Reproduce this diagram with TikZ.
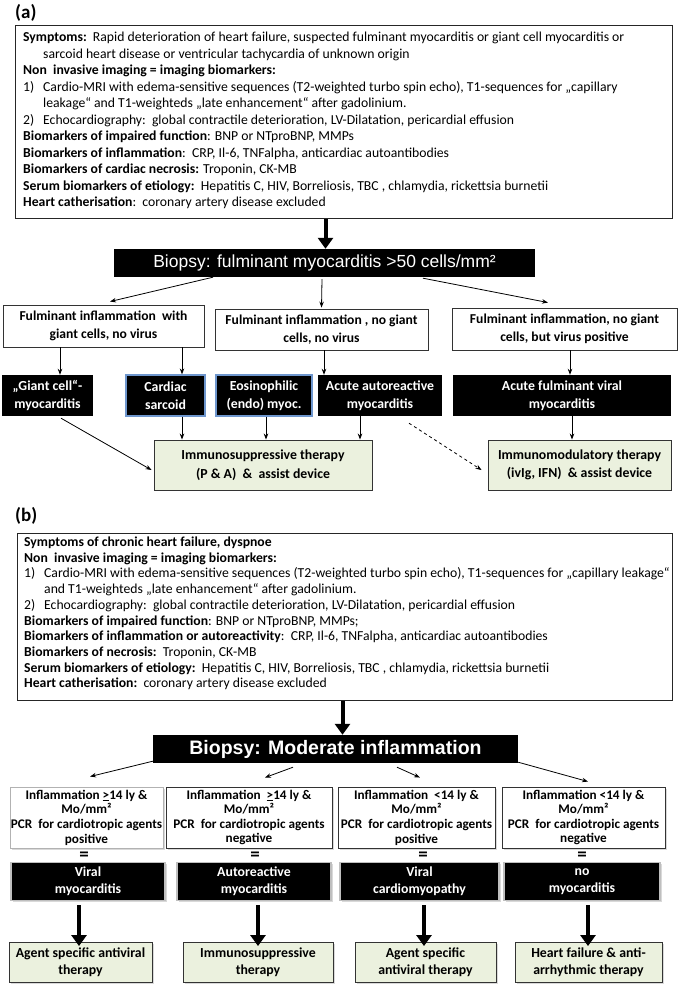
\documentclass[tikz,border=0pt]{standalone}
\usepackage{fontspec}
\setmainfont{Carlito}
\newfontfamily\arialfont{Liberation Sans}
\usetikzlibrary{arrows.meta,shadows,calc}
\definecolor{gfill}{RGB}{235,241,222}
\definecolor{bblue}{RGB}{110,150,205}
\newcommand\tln[4]{\node[tl] (#1) at (#2,#3) {#4};}
\tikzset{
  tl/.style={anchor=base west, inner sep=0pt, font=\fontsize{13.7}{15}\selectfont},
  panellabel/.style={anchor=base west, inner sep=0pt, font=\bfseries\fontsize{19}{20}\selectfont},
  bigbox/.style={draw=black!85, line width=1pt, anchor=north west, inner sep=0pt, fill=white},
  wbox/.style={draw=black!80, line width=0.9pt, fill=white, align=center, inner sep=0pt,
     font=\bfseries\fontsize{13.6}{17.5}\selectfont},
  bbox/.style={fill=black, text=white, align=center, inner sep=0pt,
     font=\bfseries\fontsize{13.8}{18}\selectfont},
  blbox/.style={bbox, draw=bblue, line width=1.2pt},
  gbox/.style={draw=black!80, line width=0.9pt, fill=gfill, align=center, inner sep=0pt,
     font=\bfseries\fontsize{13.8}{18.5}\selectfont},
  shd/.style={drop shadow={shadow xshift=1.5pt, shadow yshift=-1.5pt, opacity=0.3}},
  thinarr/.style={-{Stealth[length=6pt,width=4.5pt]}, line width=0.8pt},
  bigarr/.style={-{Triangle[length=11pt,width=15pt]}, line width=4pt},
  eqs/.style={inner sep=0pt, font=\bfseries\fontsize{19}{19}\selectfont},
  rowtwo/.style={font=\bfseries\fontsize{13.2}{14.6}\selectfont},
}
\begin{document}
\begin{tikzpicture}[x=1pt,y=-1pt]
\useasboundingbox (0,0) rectangle (685,988);

% ---------------- (a) ----------------
\node[panellabel] (la) at (15,18) {(a)};
\node[bigbox, minimum width=657pt, minimum height=193pt] (A) at (15,25) {};
\tln{a1}{23}{41.5}{\textbf{Symptoms:}\ \ Rapid deterioration of heart failure, suspected fulminant myocarditis or giant cell myocarditis or}
\tln{a2}{43}{58}{sarcoid heart disease or ventricular tachycardia of unknown origin}
\tln{a3}{23}{74.5}{\textbf{Non\ \ invasive imaging = imaging biomarkers:}}
\tln{a4}{23}{91}{\makebox[20pt][l]{1)}Cardio-MRI with edema-sensitive sequences (T2-weighted turbo spin echo), T1-sequences for „capillary}
\tln{a5}{43}{107.5}{leakage“ and T1-weighteds „late enhancement“ after gadolinium.}
\tln{a6}{23}{124}{\makebox[20pt][l]{2)}Echocardiography:\ \ global contractile deterioration, LV-Dilatation, pericardial effusion}
\tln{a7}{23}{140.5}{\textbf{Biomarkers of impaired function}: BNP or NTproBNP, MMPs}
\tln{a8}{23}{157}{\textbf{Biomarkers of inflammation}:\ \ CRP, Il-6, TNFalpha, anticardiac autoantibodies}
\tln{a9}{23}{173.5}{\textbf{Biomarkers of cardiac necrosis:} Troponin, CK-MB}
\tln{a10}{23}{190}{\textbf{Serum biomarkers of etiology:}\ \ Hepatitis C, HIV, Borreliosis, TBC , chlamydia, rickettsia burnetii}
\tln{a11}{23}{206.5}{\textbf{Heart catherisation}:\ \ coronary artery disease excluded}

\node[bbox, minimum width=421pt, minimum height=28pt, font=\arialfont\fontsize{17.5}{18}\selectfont] (bioA) at (324.5,263) {Biopsy: fulminant myocarditis >50 cells/mm²};
\draw[bigarr] ([xshift=-18.5pt]A.south) -- ([xshift=-18.5pt]A.south |- bioA.north);

\node[wbox, minimum width=201pt, minimum height=42pt] (A1) at (103.5,326) {Fulminant inflammation\ \ with\\giant cells, no virus};
\node[wbox, minimum width=213pt, minimum height=41pt] (A2) at (321.5,329.5) {Fulminant inflammation , no giant\\cells, no virus};
\node[wbox, minimum width=225pt, minimum height=42pt] (A3) at (564.5,329) {Fulminant inflammation, no giant\\cells, but virus positive};

\draw[thinarr] ([xshift=-111.5pt]bioA.south) -- ([xshift=6.5pt,yshift=3pt]A1.north);
\draw[thinarr] ([xshift=-2.5pt,yshift=-2pt]bioA.south) -- ([yshift=1pt]A2.north);
\draw[thinarr] ([xshift=98.5pt,yshift=-1pt]bioA.south) -- ([xshift=-16.5pt,yshift=5pt]A3.north);

\node[bbox, minimum width=91pt, minimum height=41pt] (G) at (47.5,395.5) {„Giant cell“-\\myocarditis};
\node[blbox, minimum width=79pt, minimum height=41pt] (CS) at (165.5,395.5) {Cardiac\\sarcoid};
\node[blbox, minimum width=96pt, minimum height=41pt] (EO) at (264,395.5) {Eosinophilic\\(endo) myoc.};
\node[bbox, minimum width=124pt, minimum height=41pt] (AA) at (380,395.5) {Acute autoreactive\\myocarditis};
\node[bbox, minimum width=218pt, minimum height=41pt] (AF) at (562,395.5) {Acute fulminant viral\\myocarditis};

\draw[thinarr] ([xshift=-43.5pt]A1.south) -- ([xshift=-43.5pt]A1.south |- G.north);
\draw[thinarr] ([xshift=78.5pt]A1.south) -- ([xshift=78.5pt]A1.south |- CS.north);
\draw[thinarr] ([xshift=2.5pt]A2.south) -- ([xshift=2.5pt]A2.south |- AA.north);
\draw[thinarr] ([xshift=5.5pt]A3.south) -- ([xshift=5.5pt]A3.south |- AF.north);

\node[gbox, minimum width=218pt, minimum height=50pt] (IS) at (263,465) {Immunosuppressive therapy\\(P \& A)\ \ \&\ \ assist device};
\node[gbox, minimum width=183pt, minimum height=50pt] (IM) at (579.5,465) {Immunomodulatory therapy\\(ivIg, IFN)\ \ \& assist device};

\draw[thinarr] ([xshift=13.5pt,yshift=-2pt]G.south) -- ([xshift=-2pt,yshift=-5pt]IS.west);
\draw[thinarr] ([xshift=16.5pt]CS.south) -- ([xshift=16.5pt]CS.south |- IS.north);
\draw[thinarr] ([xshift=2pt]EO.south) -- ([xshift=2pt]EO.south |- IS.north);
\draw[thinarr] ([xshift=-20pt]AA.south) -- ([xshift=-20pt]AA.south |- IS.north);
\draw[thinarr, dashed] ([xshift=29pt,yshift=-7pt]AA.south) -- ([xshift=-6pt,yshift=-5pt]IM.west);
\draw[thinarr] ([xshift=10pt]AF.south) -- ([xshift=10pt]AF.south |- IM.north);

% ---------------- (b) ----------------
\node[panellabel] (lb) at (15,521) {(b)};
\node[bigbox, minimum width=655pt, minimum height=167pt] (B) at (17,533) {};
\tln{b1}{24}{546.5}{\textbf{Symptoms of chronic heart failure, dyspnoe}}
\tln{b2}{24}{562.2}{\textbf{Non\ \ invasive imaging = imaging biomarkers:}}
\tln{b3}{24}{577.9}{\makebox[20pt][l]{1)}Cardio-MRI with edema-sensitive sequences (T2-weighted turbo spin echo), T1-sequences for „capillary leakage“}
\tln{b4}{44}{593.6}{and T1-weighteds „late enhancement“ after gadolinium.}
\tln{b5}{24}{609.3}{\makebox[20pt][l]{2)}Echocardiography:\ \ global contractile deterioration, LV-Dilatation, pericardial effusion}
\tln{b6}{24}{625}{\textbf{Biomarkers of impaired function}: BNP or NTproBNP, MMPs;}
\tln{b7}{24}{640.7}{\textbf{Biomarkers of inflammation or autoreactivity}:\ \ CRP, Il-6, TNFalpha, anticardiac autoantibodies}
\tln{b8}{24}{656.4}{\textbf{Biomarkers of necrosis:}\ \ Troponin, CK-MB}
\tln{b9}{24}{672.1}{\textbf{Serum biomarkers of etiology:}\ \ Hepatitis C, HIV, Borreliosis, TBC , chlamydia, rickettsia burnetii}
\tln{b10}{24}{687.8}{\textbf{Heart catherisation:}\ \ coronary artery disease excluded}

\node[bbox, minimum width=365pt, minimum height=28pt, font=\arialfont\bfseries\fontsize{19.5}{20}\selectfont] (bioB) at (335.5,749) {Biopsy: Moderate inflammation};
\draw[bigarr] ([xshift=-2.5pt]B.south) -- ([xshift=-2.5pt]B.south |- bioB.north);

\node[wbox, rowtwo, draw=black!30, shd, minimum width=153pt, minimum height=61pt] (B1) at (86.5,817.5) {Inflammation \underline{>}14 ly \&\\Mo/mm²\\PCR\ \ for cardiotropic agents\\positive};
\node[wbox, rowtwo, shd, minimum width=166pt, minimum height=61pt] (B2) at (249,817.5) {Inflammation\ \ \underline{>}14 ly \&\\Mo/mm²\\PCR\ \ for cardiotropic agents\\negative};
\node[wbox, rowtwo, shd, minimum width=157pt, minimum height=61pt] (B3) at (416.5,817.5) {Inflammation\ \ <14 ly \&\\Mo/mm²\\PCR\ \ for cardiotropic agents\\positive};
\node[wbox, rowtwo, shd, minimum width=163pt, minimum height=61pt] (B4) at (583.5,817.5) {Inflammation <14 ly \&\\Mo/mm²\\PCR\ \ for cardiotropic agents\\negative};

\draw[thinarr] ([yshift=2pt]bioB.south west) -- ([xshift=3.5pt,yshift=10pt]B1.north);
\draw[thinarr] ([xshift=-42.5pt,yshift=-4pt]bioB.south) -- ([xshift=16pt,yshift=9pt]B2.north);
\draw[thinarr] ([xshift=61.5pt,yshift=-4pt]bioB.south) -- ([xshift=3.5pt,yshift=9pt]B3.north);
\draw[thinarr] ([yshift=1pt]bioB.south east) -- ([xshift=4.5pt,yshift=5pt]B4.north);

\node[eqs] (e1) at (84,856) {=};
\node[eqs] (e2) at (255,856) {=};
\node[eqs] (e3) at (423,856) {=};
\node[eqs] (e4) at (582,856) {=};

\node[bbox, draw=black!25, line width=1.5pt, shd, minimum width=154pt, minimum height=38pt, font=\bfseries\fontsize{13.8}{17}\selectfont] (V1) at (88,881.5) {Viral\\myocarditis};
\node[bbox, draw=black!25, line width=1.5pt, shd, minimum width=154pt, minimum height=38pt, font=\bfseries\fontsize{13.8}{17}\selectfont] (V2) at (254,881.5) {Autoreactive\\myocarditis};
\node[bbox, draw=black!25, line width=1.5pt, shd, minimum width=159pt, minimum height=38pt, font=\bfseries\fontsize{13.8}{17}\selectfont] (V3) at (419.5,881.5) {Viral\\cardiomyopathy};
\node[bbox, draw=black!25, line width=1.5pt, shd, minimum width=156pt, minimum height=38pt, font=\bfseries\fontsize{13.8}{17}\selectfont] (V4) at (582,881.5) {no\\myocarditis};

\node[gbox, shd, minimum width=143pt, minimum height=40pt, font=\bfseries\fontsize{13.8}{17}\selectfont] (T1) at (80.5,962.5) {Agent specific antiviral\\therapy};
\node[gbox, shd, minimum width=150pt, minimum height=40pt, font=\bfseries\fontsize{13.8}{17}\selectfont] (T2) at (258,962.5) {Immunosuppressive\\therapy};
\node[gbox, shd, minimum width=141pt, minimum height=40pt, font=\bfseries\fontsize{13.8}{17}\selectfont] (T3) at (425.5,962.5) {Agent specific\\antiviral therapy};
\node[gbox, shd, minimum width=147pt, minimum height=40pt, font=\bfseries\fontsize{13.8}{17}\selectfont] (T4) at (588.5,962.5) {Heart failure \& anti-\\arrhythmic therapy};

\draw[bigarr] ([xshift=-9pt,yshift=-4pt]V1.south) -- ([xshift=-9pt,yshift=-4pt]V1.south |- T1.north);
\draw[bigarr] ([xshift=4pt,yshift=-4pt]V2.south) -- ([xshift=4pt,yshift=-4pt]V2.south |- T2.north);
\draw[bigarr] ([xshift=4.5pt,yshift=-4pt]V3.south) -- ([xshift=4.5pt,yshift=-4pt]V3.south |- T3.north);
\draw[bigarr] ([xshift=6pt,yshift=-4pt]V4.south) -- ([xshift=6pt,yshift=-4pt]V4.south |- T4.north);
\end{tikzpicture}
\end{document}
